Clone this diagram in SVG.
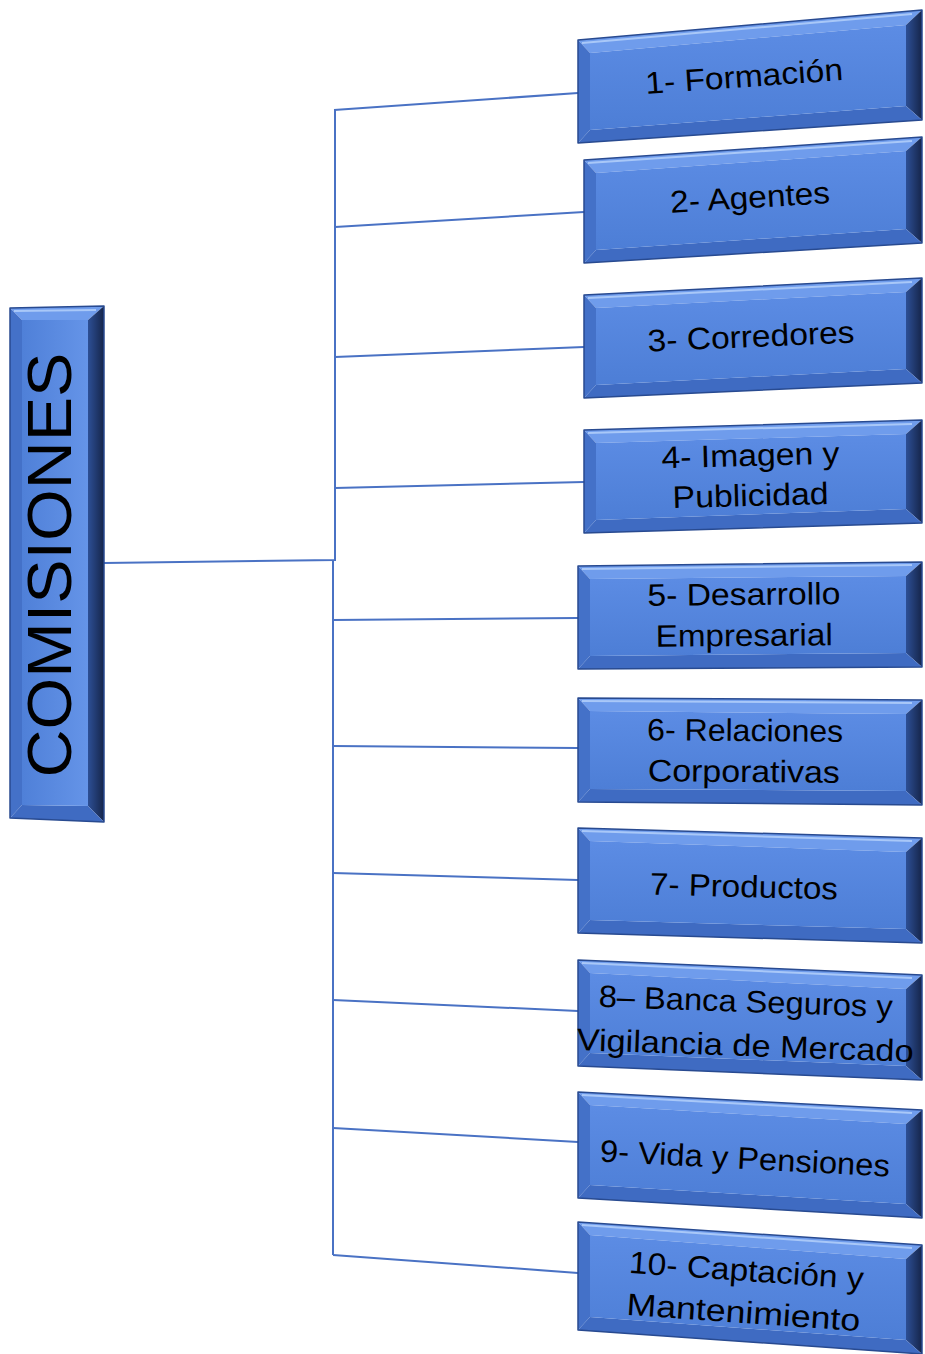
<svg xmlns="http://www.w3.org/2000/svg" width="925" height="1354" viewBox="0 0 925 1354">
<defs>
<linearGradient id="face" x1="0" y1="0" x2="0" y2="1">
<stop offset="0" stop-color="#5c8ce4"/>
<stop offset="1" stop-color="#4d7ed6"/>
</linearGradient>
<linearGradient id="faceV" x1="0" y1="0" x2="1" y2="0">
<stop offset="0" stop-color="#4f80d8"/>
<stop offset="1" stop-color="#6594e8"/>
</linearGradient>
<linearGradient id="rightG" x1="0" y1="0" x2="1" y2="0">
<stop offset="0" stop-color="#2d4f95"/>
<stop offset="1" stop-color="#15254a"/>
</linearGradient>
</defs>
<style>
.top{fill:#6f9cec;}
.lft{fill:#4471c8;}
.rgt{fill:url(#rightG);}
.bot{fill:#3f6bc2;}
.fc{fill:url(#face);}
.out{fill:none;stroke:#284a90;stroke-width:1.5;stroke-linejoin:round;}
.hl{fill:none;stroke:#a9c8f8;stroke-width:2;}
.lbl{font-family:"Liberation Sans",Arial,sans-serif;font-size:31px;fill:#000;text-anchor:middle;}
.conn{fill:none;stroke:#4a72c4;stroke-width:2;}
</style>

<g id="connectors">
<polyline class="conn" points="104,563 335,560 335,110"/>
<line class="conn" x1="333" y1="560" x2="333" y2="1255"/>
<line class="conn" x1="334" y1="110" x2="578" y2="93"/>
<line class="conn" x1="335" y1="227" x2="584" y2="212"/>
<line class="conn" x1="335" y1="357" x2="584" y2="347"/>
<line class="conn" x1="335" y1="488" x2="584" y2="482"/>
<line class="conn" x1="333" y1="620" x2="578" y2="618"/>
<line class="conn" x1="333" y1="746" x2="578" y2="748"/>
<line class="conn" x1="333" y1="873" x2="578" y2="880"/>
<line class="conn" x1="333" y1="1000" x2="578" y2="1011"/>
<line class="conn" x1="333" y1="1128" x2="578" y2="1142"/>
<line class="conn" x1="333" y1="1255" x2="578" y2="1273"/>
</g>

<g id="comisiones">
<polygon class="top" points="10,308 104,306 88,320 22,320"/>
<polygon class="lft" points="10,308 22,320 22,805 10,818"/>
<polygon class="rgt" points="104,306 104,822 88,806 88,320"/>
<polygon class="bot" points="10,818 104,822 88,806 22,805"/>
<polygon points="22,320 88,320 88,806 22,805" fill="url(#faceV)"/>
<polygon class="out" points="10,308 104,306 104,822 10,818"/>
<line class="hl" x1="14" y1="311" x2="96" y2="310"/>
<text transform="translate(71,565) rotate(-90)" x="0" y="0" font-family="Liberation Sans, Arial, sans-serif" font-size="63" text-anchor="middle" textLength="425" lengthAdjust="spacingAndGlyphs" fill="#000">COMISIONES</text>
</g>

<g id="n1">
<polygon class="top" points="578,40 922,10 906,25 590,53"/>
<polygon class="lft" points="578,40 590,53 590,130 578,143"/>
<polygon class="rgt" points="922,10 922,120 906,106 906,25"/>
<polygon class="bot" points="578,143 922,120 906,106 590,130"/>
<polygon class="fc" points="590,53 906,25 906,106 590,130"/>
<polygon class="out" points="578,40 922,10 922,120 578,143"/>
<line class="hl" x1="582" y1="43" x2="912" y2="14"/>
<text class="lbl" transform="rotate(-4 744 76)" x="744" y="87" textLength="198" lengthAdjust="spacingAndGlyphs">1- Formación</text>
</g>

<g id="n2">
<polygon class="top" points="584,160 922,137 906,151 596,173"/>
<polygon class="lft" points="584,160 596,173 596,250 584,263"/>
<polygon class="rgt" points="922,137 922,243 906,229 906,151"/>
<polygon class="bot" points="584,263 922,243 906,229 596,250"/>
<polygon class="fc" points="596,173 906,151 906,229 596,250"/>
<polygon class="out" points="584,160 922,137 922,243 584,263"/>
<line class="hl" x1="588" y1="163" x2="912" y2="141"/>
<text class="lbl" transform="rotate(-3.5 750 197)" x="750" y="208" textLength="160" lengthAdjust="spacingAndGlyphs">2- Agentes</text>
</g>

<g id="n3">
<polygon class="top" points="584,295 922,278 906,292 596,308"/>
<polygon class="lft" points="584,295 596,308 596,385 584,398"/>
<polygon class="rgt" points="922,278 922,383 906,369 906,292"/>
<polygon class="bot" points="584,398 922,383 906,369 596,385"/>
<polygon class="fc" points="596,308 906,292 906,369 596,385"/>
<polygon class="out" points="584,295 922,278 922,383 584,398"/>
<line class="hl" x1="588" y1="298" x2="912" y2="282"/>
<text class="lbl" transform="rotate(-2.5 751 336)" x="751" y="347" textLength="207" lengthAdjust="spacingAndGlyphs">3- Corredores</text>
</g>

<g id="n4">
<polygon class="top" points="584,430 922,420 906,434 596,443"/>
<polygon class="lft" points="584,430 596,443 596,520 584,533"/>
<polygon class="rgt" points="922,420 922,523 906,509 906,434"/>
<polygon class="bot" points="584,533 922,523 906,509 596,520"/>
<polygon class="fc" points="596,443 906,434 906,509 596,520"/>
<polygon class="out" points="584,430 922,420 922,523 584,533"/>
<line class="hl" x1="588" y1="433" x2="912" y2="424"/>
<text class="lbl" transform="rotate(-1.5 751 475)" x="751" y="466" textLength="178" lengthAdjust="spacingAndGlyphs">4- Imagen y</text>
<text class="lbl" transform="rotate(-1.5 751 475)" x="750" y="506" textLength="156" lengthAdjust="spacingAndGlyphs">Publicidad</text>
</g>

<g id="n5">
<polygon class="top" points="578,566 922,562 906,576 590,579"/>
<polygon class="lft" points="578,566 590,579 590,656 578,669"/>
<polygon class="rgt" points="922,562 922,667 906,653 906,576"/>
<polygon class="bot" points="578,669 922,667 906,653 590,656"/>
<polygon class="fc" points="590,579 906,576 906,653 590,656"/>
<polygon class="out" points="578,566 922,562 922,667 578,669"/>
<line class="hl" x1="582" y1="569" x2="912" y2="565"/>
<text class="lbl" transform="rotate(-0.5 744 615)" x="744" y="605" textLength="193" lengthAdjust="spacingAndGlyphs">5- Desarrollo</text>
<text class="lbl" transform="rotate(-0.5 744 615)" x="744" y="646" textLength="177" lengthAdjust="spacingAndGlyphs">Empresarial</text>
</g>

<g id="n6">
<polygon class="top" points="578,698 922,700 906,714 590,711"/>
<polygon class="lft" points="578,698 590,711 590,789 578,802"/>
<polygon class="rgt" points="922,700 922,805 906,791 906,714"/>
<polygon class="bot" points="578,802 922,805 906,791 590,789"/>
<polygon class="fc" points="590,711 906,714 906,791 590,789"/>
<polygon class="out" points="578,698 922,700 922,805 578,802"/>
<line class="hl" x1="582" y1="701" x2="912" y2="703"/>
<text class="lbl" transform="rotate(0.5 745 751)" x="745" y="741" textLength="196" lengthAdjust="spacingAndGlyphs">6- Relaciones</text>
<text class="lbl" transform="rotate(0.5 745 751)" x="744" y="782" textLength="192" lengthAdjust="spacingAndGlyphs">Corporativas</text>
</g>

<g id="n7">
<polygon class="top" points="578,828 922,838 906,852 590,841"/>
<polygon class="lft" points="578,828 590,841 590,920 578,933"/>
<polygon class="rgt" points="922,838 922,943 906,929 906,852"/>
<polygon class="bot" points="578,933 922,943 906,929 590,920"/>
<polygon class="fc" points="590,841 906,852 906,929 590,920"/>
<polygon class="out" points="578,828 922,838 922,943 578,933"/>
<line class="hl" x1="582" y1="831" x2="912" y2="841"/>
<text class="lbl" transform="rotate(1.5 744 886)" x="744" y="897" textLength="188" lengthAdjust="spacingAndGlyphs">7- Productos</text>
</g>

<g id="n8">
<polygon class="top" points="578,960 922,975 906,989 590,973"/>
<polygon class="lft" points="578,960 590,973 590,1053 578,1066"/>
<polygon class="rgt" points="922,975 922,1080 906,1066 906,989"/>
<polygon class="bot" points="578,1066 922,1080 906,1066 590,1053"/>
<polygon class="fc" points="590,973 906,989 906,1066 590,1053"/>
<polygon class="out" points="578,960 922,975 922,1080 578,1066"/>
<line class="hl" x1="582" y1="963" x2="912" y2="978"/>
<text class="lbl" transform="rotate(2 746 1022)" x="745" y="1012" font-size="32" textLength="294" lengthAdjust="spacingAndGlyphs">8– Banca Seguros y</text>
<text class="lbl" transform="rotate(2 746 1022)" x="746" y="1056" font-size="32" textLength="337" lengthAdjust="spacingAndGlyphs">Vigilancia de Mercado</text>
</g>

<g id="n9">
<polygon class="top" points="578,1092 922,1110 906,1124 590,1105"/>
<polygon class="lft" points="578,1092 590,1105 590,1185 578,1198"/>
<polygon class="rgt" points="922,1110 922,1218 906,1204 906,1124"/>
<polygon class="bot" points="578,1198 922,1218 906,1204 590,1185"/>
<polygon class="fc" points="590,1105 906,1124 906,1204 590,1185"/>
<polygon class="out" points="578,1092 922,1110 922,1218 578,1198"/>
<line class="hl" x1="582" y1="1095" x2="912" y2="1113"/>
<text class="lbl" transform="rotate(3 745 1158)" x="745" y="1169" textLength="290" lengthAdjust="spacingAndGlyphs">9- Vida y Pensiones</text>
</g>

<g id="n10">
<polygon class="top" points="578,1222 922,1245 906,1259 590,1235"/>
<polygon class="lft" points="578,1222 590,1235 590,1317 578,1330"/>
<polygon class="rgt" points="922,1245 922,1354 906,1340 906,1259"/>
<polygon class="bot" points="578,1330 922,1354 906,1340 590,1317"/>
<polygon class="fc" points="590,1235 906,1259 906,1340 590,1317"/>
<polygon class="out" points="578,1222 922,1245 922,1354 578,1330"/>
<line class="hl" x1="582" y1="1225" x2="912" y2="1248"/>
<text class="lbl" transform="rotate(4 745 1291)" x="745" y="1281" textLength="235" lengthAdjust="spacingAndGlyphs">10- Captación y</text>
<text class="lbl" transform="rotate(4 745 1291)" x="745" y="1323" textLength="234" lengthAdjust="spacingAndGlyphs">Mantenimiento</text>
</g>
</svg>
